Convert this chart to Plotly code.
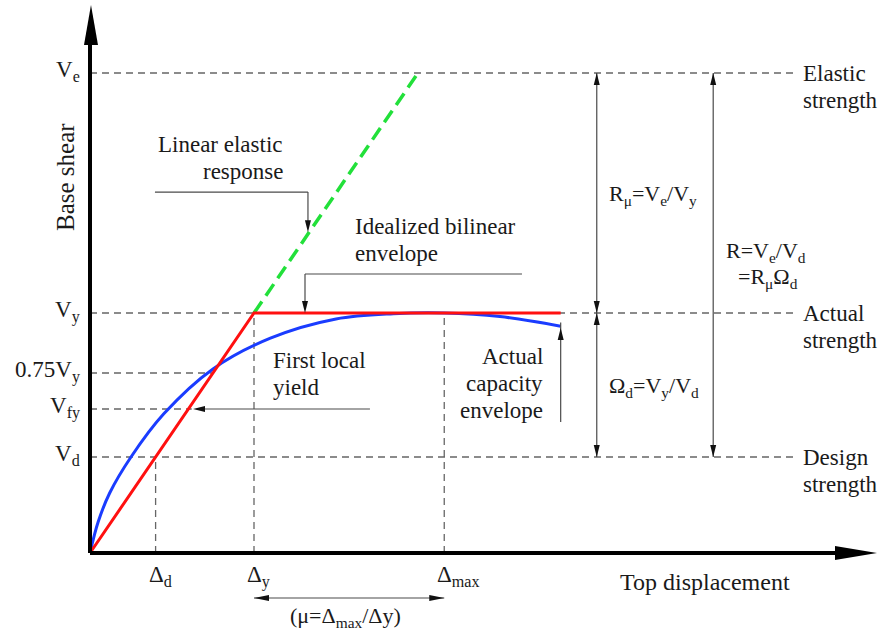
import plotly.graph_objects as go

# Normalised units: displacement in multiples of Δy, base shear in multiples of Vy
disp_marks = [0.40, 1.00, 2.16]
disp_labels = ["Δ<sub>d</sub>", "Δ<sub>y</sub>", "Δ<sub>max</sub>"]
disp_guide_top = [0.40, 1.00, 1.00]

shear_marks = [0.40, 0.60, 0.75, 1.00, 2.00]
shear_labels = ["V<sub>d</sub>", "V<sub>fy</sub>", "0.75V<sub>y</sub>", "V<sub>y</sub>", "V<sub>e</sub>"]

# Idealized bilinear envelope
bilinear_disp = [0.0, 1.0, 2.87]
bilinear_shear = [0.0, 1.0, 1.0]

# Linear elastic response beyond yield
elastic_disp = [1.0, 2.0]
elastic_shear = [1.0, 2.0]

# Actual capacity envelope
capacity_disp = [0.0, 0.05, 0.12, 0.25, 0.45, 0.75, 1.10, 1.50, 1.85, 2.16, 2.50, 2.87]
capacity_shear = [0.0, 0.13, 0.25, 0.40, 0.58, 0.767, 0.895, 0.975, 0.997, 1.0, 0.985, 0.945]

W, H = 881, 633
X_RANGE = [-0.5488, 4.8232]
Y_RANGE = [-0.3333, 2.3042]
SX = W / (X_RANGE[1] - X_RANGE[0])
SY = H / (Y_RANGE[1] - Y_RANGE[0])

REF_END = 4.287
FONT = "Liberation Serif, Times New Roman, serif"
TXT = "#1a1a1a"
GUIDE = "#666666"
LEAD = "#4a4a4a"
LINE_GAP = 27  # px between stacked text lines


def head(x, y, d, length=12, width=6, color="#111111"):
    ux, uy = {"up": (0, 1), "down": (0, -1), "left": (-1, 0), "right": (1, 0)}[d]
    bx = x - ux * length / SX
    by = y - uy * length / SY
    px, py = -uy, ux
    c1 = (bx + px * width / 2 / SX, by + py * width / 2 / SY)
    c2 = (bx - px * width / 2 / SX, by - py * width / 2 / SY)
    return dict(type="path", xref="x", yref="y",
                path=f"M{x},{y} L{c1[0]},{c1[1]} L{c2[0]},{c2[1]} Z",
                fillcolor=color, line=dict(width=0), layer="above")


def seg(x0, y0, x1, y1, color=LEAD, width=1.2):
    return dict(type="line", xref="x", yref="y", x0=x0, y0=y0, x1=x1, y1=y1,
                line=dict(color=color, width=width), layer="above")


fig = go.Figure()

# Dashed guide lines
shear_guide_end = [REF_END, 0.62, 0.75, REF_END, REF_END]
for v, xe in zip(shear_marks, shear_guide_end):
    fig.add_trace(go.Scatter(x=[0, xe], y=[v, v], mode="lines",
                             line=dict(color=GUIDE, width=1.3, dash="7px,5px"),
                             hoverinfo="skip"))
for d, top in zip(disp_marks, disp_guide_top):
    fig.add_trace(go.Scatter(x=[d, d], y=[0, top], mode="lines",
                             line=dict(color=GUIDE, width=1.3, dash="7px,5px"),
                             hoverinfo="skip"))

# Response curves
fig.add_trace(go.Scatter(x=elastic_disp, y=elastic_shear, mode="lines",
                         line=dict(color="#22e03a", width=3.5, dash="14px,7px")))
fig.add_trace(go.Scatter(x=capacity_disp, y=capacity_shear, mode="lines",
                         line=dict(color="#1a3cff", width=3, shape="spline", smoothing=1.0)))
fig.add_trace(go.Scatter(x=bilinear_disp, y=bilinear_shear, mode="lines",
                         line=dict(color="#ff1010", width=3)))

shapes = []
# Axes with arrowheads
shapes.append(seg(0, 0, 0, 2.15, color="#000000", width=4))
shapes.append(seg(0, 0, 4.65, 0, color="#000000", width=4))
shapes.append(head(0.006, 2.283, "up", length=40, width=14, color="#000000"))
shapes.append(head(4.799, 0.0, "right", length=42, width=14, color="#000000"))

# Leader: linear elastic response
shapes += [seg(0.396, 1.504, 1.329, 1.504), seg(1.329, 1.504, 1.329, 1.36),
           head(1.329, 1.337, "down")]
# Leader: idealized bilinear envelope
shapes += [seg(1.311, 1.1625, 2.634, 1.1625), seg(1.311, 1.1625, 1.311, 1.03),
           head(1.311, 1.0, "down")]
# Leader: first local yield
shapes += [seg(1.707, 0.60, 0.66, 0.60), head(0.628, 0.60, "left")]
# Leader: actual capacity envelope
shapes += [seg(2.87, 0.546, 2.87, 0.96), head(2.87, 0.9375, "up")]

# Strength ratio dimension lines
xr1, xr2 = 3.09, 3.80
shapes += [seg(xr1, 2.0, xr1, 0.40), seg(xr2, 2.0, xr2, 0.40)]
shapes += [head(xr1, 2.0, "up"), head(xr1, 1.0, "down"),
           head(xr1, 1.0, "up"), head(xr1, 0.40, "down"),
           head(xr2, 2.0, "up"), head(xr2, 0.40, "down")]

# Ductility dimension line
shapes += [seg(1.0, -0.1875, 2.16, -0.1875), head(1.0, -0.1875, "left", length=15),
           head(2.16, -0.1875, "right", length=15)]

annotations = []


def label(x, y, text, size=23, xanchor="center", yanchor="middle",
          xshift=0, yshift=0, angle=0):
    annotations.append(dict(x=x, y=y, xref="x", yref="y", text=text, showarrow=False,
                            xanchor=xanchor, yanchor=yanchor,
                            xshift=xshift, yshift=yshift, textangle=angle,
                            font=dict(family=FONT, size=size, color=TXT)))


def stacked(x, y, lines, size=23, xanchor="center", yshift=0):
    for i, t in enumerate(lines):
        label(x, y, t, size=size, xanchor=xanchor, yshift=yshift - LINE_GAP * i)


for v, t in zip(shear_marks, shear_labels):
    label(0, v, t, size=23, xanchor="right", xshift=-8, yshift=2)
for d, t in zip(disp_marks, disp_labels):
    label(d, 0, t, size=23, xanchor="left", xshift=-9, yshift=-23)

label(-0.146, 1.567, "Base shear", size=25, angle=-90)
label(3.75, -0.121, "Top displacement", size=24)
label(1.555, -0.267, "(μ=Δ<sub>max</sub>/Δy)", size=22)

stacked(1.189, 1.704, ["Linear elastic", "response"], xanchor="right")
stacked(1.604, 1.3625, ["Idealized bilinear", "envelope"], xanchor="left")
stacked(1.104, 0.804, ["First local", "yield"], xanchor="left")
stacked(2.774, 0.817, ["Actual", "capacity", "envelope"], xanchor="right")

label(3.43, 1.492, "R<sub>μ</sub>=V<sub>e</sub>/V<sub>y</sub>", size=22)
label(3.44, 0.692, "Ω<sub>d</sub>=V<sub>y</sub>/V<sub>d</sub>", size=22)
label(4.12, 1.254, "R=V<sub>e</sub>/V<sub>d</sub>", size=22)
label(4.134, 1.146, "=R<sub>μ</sub>Ω<sub>d</sub>", size=22)

for v, t in [(2.0, "Elastic"), (1.0, "Actual"), (0.40, "Design")]:
    stacked(4.335, v, [t, "strength"], size=23, xanchor="left")

fig.update_layout(
    width=W, height=H, autosize=False,
    margin=dict(l=0, r=0, t=0, b=0),
    paper_bgcolor="white", plot_bgcolor="white",
    showlegend=False,
    xaxis=dict(range=X_RANGE, visible=False, fixedrange=True),
    yaxis=dict(range=Y_RANGE, visible=False, fixedrange=True),
    shapes=shapes, annotations=annotations,
)

fig.write_html("out.html")
